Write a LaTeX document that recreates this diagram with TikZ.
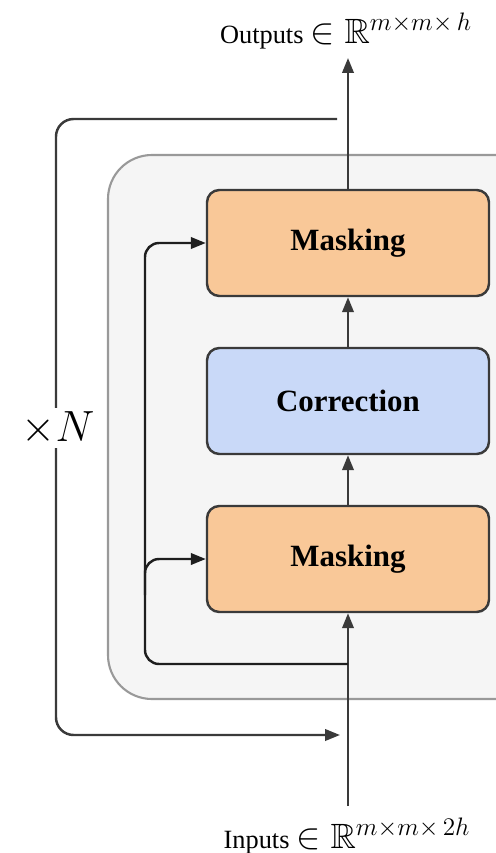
\documentclass[tikz,border=0pt]{standalone}
\usepackage{fontspec}
\usepackage{amssymb}
\setmainfont{Liberation Serif}
\DeclareMathSizes{20}{20}{13.5}{9.5}
\usetikzlibrary{arrows.meta}
\definecolor{linegray}{HTML}{3A3A3A}
\definecolor{skipdark}{HTML}{1E1E1E}
\definecolor{panelfill}{HTML}{F5F5F5}
\definecolor{panelline}{HTML}{999999}
\definecolor{maskfill}{HTML}{F9C898}
\definecolor{corrfill}{HTML}{C9D9F8}
\newcommand{\shapeset}[1]{{\fontsize{20}{24}\selectfont$\in\mathbb{R}^{m\times m\times\, #1}$}}
\tikzset{
  conn/.style={draw=linegray, line width=1.4pt,
    -{Triangle[length=8.5pt,width=6.5pt]}},
  blockbox/.style={draw=linegray, line width=1.4pt, rounded corners=7pt,
    minimum width=282*0.02cm, minimum height=106*0.02cm,
    font=\fontsize{17.6}{20}\selectfont\bfseries, inner sep=0pt},
  iolabel/.style={font=\fontsize{15}{17}\selectfont, inner sep=0pt},
}
\begin{document}
\begin{tikzpicture}[x=0.02cm, y=-0.02cm]
  \useasboundingbox (0,0) rectangle (496,853);
  \clip (0,0) rectangle (496,853);

  % shared panel around the three stages
  \draw[fill=panelfill, draw=panelline, line width=1.2pt, rounded corners=25pt]
    (108,155) rectangle (560,699);

  % stages
  \node[blockbox, fill=maskfill] (mtop) at (348,243) {Masking};
  \node[blockbox, fill=corrfill] (corr) at (348,401) {Correction};
  \node[blockbox, fill=maskfill] (mbot) at (348,559) {Masking};

  % input / output labels
  \node[iolabel] (out) at (346,31) {Outputs \shapeset{h}};
  \node[iolabel] (inp) at (347,836) {Inputs \shapeset{2h}};

  \coordinate (instart) at (348,806);
  \coordinate (outtip) at (348,58);
  \coordinate (split) at (348,664);
  \coordinate (looptop) at (337,119);
  \coordinate (loopend) at (340,735);
  \coordinate (branch) at (145,595);

  % main data path
  \draw[conn] (instart) -- (mbot.south);
  \draw[conn] (mbot.north) -- (corr.south);
  \draw[conn] (corr.north) -- (mtop.south);
  \draw[conn] (mtop.north) -- (outtip);

  % skip connections into both masking stages
  \draw[conn, draw=skipdark, rounded corners=8pt]
    (split) -- (145,664) -- (145,243) -- (mtop.west);
  \draw[conn, draw=skipdark, rounded corners=8pt]
    (branch) -- (145,559) -- (mbot.west);

  % repetition loop
  \draw[conn, rounded corners=10pt]
    (looptop) -- (56,119) -- (56,735) -- (loopend);
  \node[fill=white, inner sep=2pt, font=\fontsize{23}{27}\selectfont] (rep) at (58,428) {$\times N$};
\end{tikzpicture}
\end{document}
